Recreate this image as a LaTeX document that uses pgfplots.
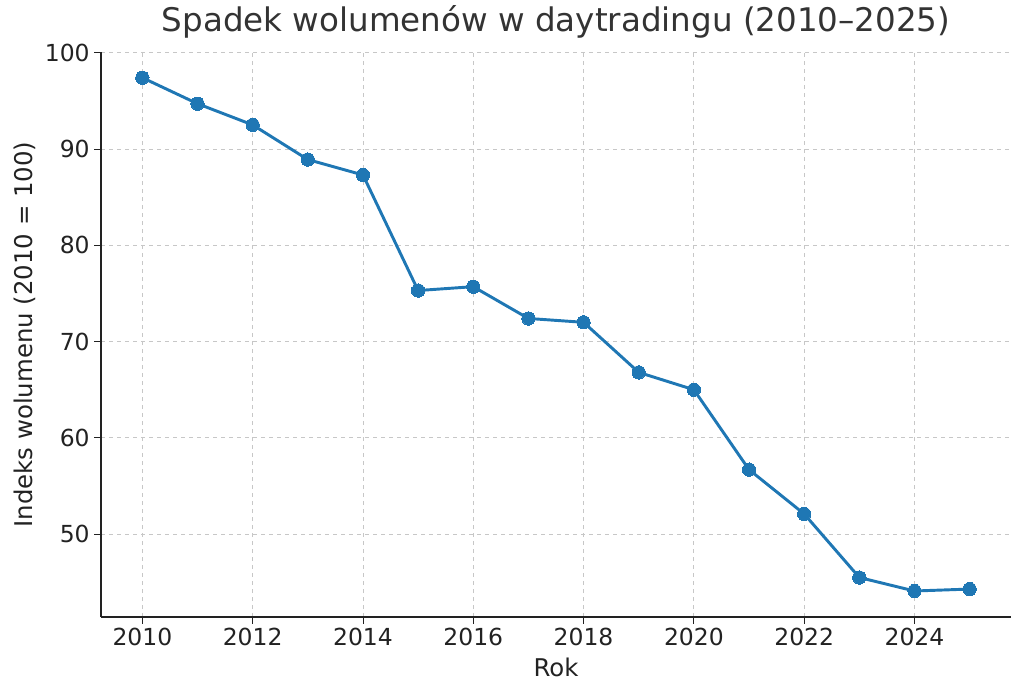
\documentclass[border=0pt]{standalone}
\usepackage{fontspec}
\setmainfont{DejaVu Sans}
\usepackage{pgfplots}
\pgfplotsset{compat=1.18}
\definecolor{mplblue}{HTML}{1F77B4}
\definecolor{txt}{HTML}{333333}
\definecolor{tk}{HTML}{222222}
\begin{document}
\begin{tikzpicture}
\useasboundingbox (0,0) rectangle (768pt,522pt);
\begin{axis}[
  at={(75.75pt,59.25pt)}, anchor=south west,
  scale only axis, width=682.5pt, height=423.75pt,
  xmin=2009.25, xmax=2025.75, ymin=41.4, ymax=100.07,
  axis x line*=bottom, axis y line*=left,
  axis line style={-, color=tk, line width=0.9pt},
  xtick={2010,2012,...,2024}, ytick={50,60,...,100},
  x tick label style={/pgf/number format/1000 sep={}},
  /pgf/number format/assume math mode=true,
  tick label style={font=\fontsize{17.6}{21}\selectfont, text=tk},
  tick align=outside, major tick length=5pt,
  tick style={color=tk, line width=0.7pt},
  grid=major, major grid style={dashed, color=black!22, line width=0.6pt},
  title={Spadek wolumenów w daytradingu (2010–2025)},
  title style={font=\fontsize{24.4}{29}\selectfont, text=txt, at={(axis description cs:0.5,1.0389)}, anchor=center},
  xlabel={Rok}, ylabel={Indeks wolumenu (2010 = 100)},
  xlabel style={font=\fontsize{18.3}{22}\selectfont, text=tk, at={(axis description cs:0.5,-0.0885)}, anchor=center},
  ylabel style={font=\fontsize{18.3}{22}\selectfont, text=tk, at={(axis description cs:-0.0835,0.5)}, anchor=center},
]
\addplot[color=mplblue, line width=2.2pt, mark=*, mark size=5pt, mark options={fill=mplblue, draw=mplblue, line width=0pt}] coordinates {
(2010,97.4) (2011,94.7) (2012,92.5) (2013,88.9) (2014,87.3) (2015,75.3)
(2016,75.7) (2017,72.4) (2018,72.0) (2019,66.8) (2020,65.0) (2021,56.7)
(2022,52.1) (2023,45.5) (2024,44.1) (2025,44.3)
};
\end{axis}
\end{tikzpicture}
\end{document}
